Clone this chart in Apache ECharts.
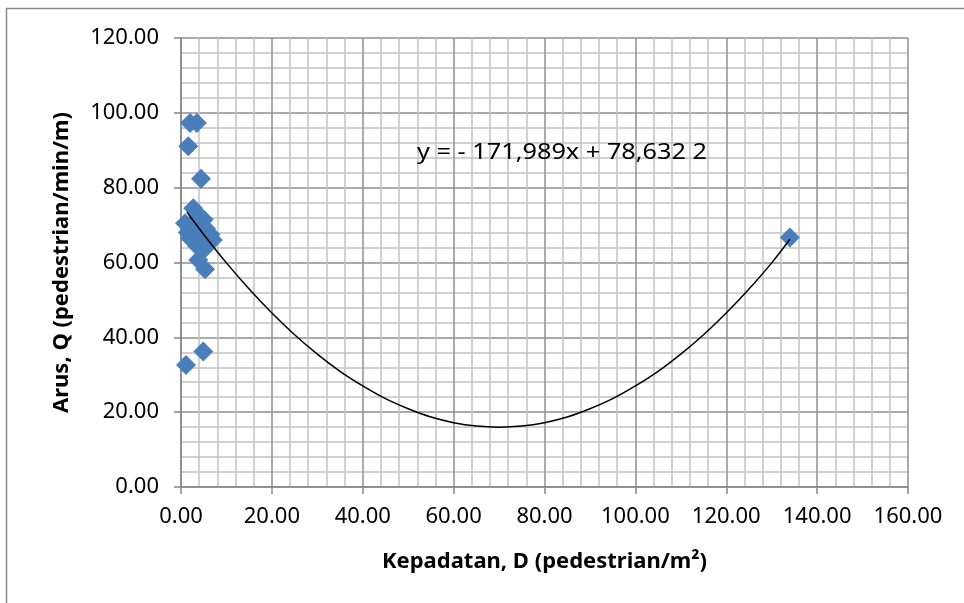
<!DOCTYPE html>
<html>
<head>
<meta charset="utf-8">
<script src="https://cdn.jsdelivr.net/npm/echarts@6/dist/echarts.min.js"></script>
<style>html,body{margin:0;padding:0;background:#fff;}#c{width:964px;height:603px;}</style>
</head>
<body>
<div id="c"></div>
<script>
// Observed data: density D (pedestrian/m2) vs flow Q (pedestrian/min/m)
const densityD = [2.0, 3.5, 1.6, 4.4, 2.7, 0.9, 1.5, 2.0, 3.0, 4.0, 5.0, 5.5, 6.5, 7.0, 4.5, 3.5, 5.0, 2.5, 3.8, 5.3, 4.9, 1.1, 134.0];
const flowQ    = [97.3, 97.3, 91.1, 82.4, 74.5, 70.5, 68.0, 66.5, 71.0, 72.5, 71.5, 69.0, 67.5, 66.0, 67.0, 64.5, 63.5, 68.5, 60.7, 58.2, 36.2, 32.6, 66.7];

// Polynomial trendline, points
const trendX = [1.3, 5, 10, 15, 20, 25, 30, 35, 40, 45, 50, 55, 60, 65, 70, 75, 80, 85, 90, 95, 100, 105, 110, 115, 120, 125, 130, 134];
const trendY = [73.5, 67.5, 59.9, 52.9, 46.5, 40.7, 35.5, 30.9, 27.0, 23.6, 20.9, 18.7, 17.2, 16.3, 16.0, 16.3, 17.2, 18.7, 20.9, 23.6, 27.0, 30.9, 35.5, 40.7, 46.5, 52.9, 59.9, 66.2];

const xTicks = [0, 20, 40, 60, 80, 100, 120, 140, 160];
const yTicks = [0, 20, 40, 60, 80, 100, 120];

const equationText = 'y = - 171,989x + 78,632 2';
const xTitle = 'Kepadatan, D (pedestrian/m²)';
const yTitle = 'Arus, Q (pedestrian/min/m)';

const scatterData = densityD.map((d, i) => [d, flowQ[i]]);
const trendData = trendX.map((x, i) => [x, trendY[i]]);

const font = '"Noto Sans", "Open Sans", sans-serif';
const chart = echarts.init(document.getElementById('c'), null, {renderer: 'canvas'});
const axisCommon = {
  type: 'value', interval: 20,
  axisLine: {show: true, onZero: false, lineStyle: {color: '#868686', width: 1.5}},
  axisTick: {show: true, inside: false, length: 7, lineStyle: {color: '#868686', width: 1.5}},
  splitLine: {show: true, lineStyle: {color: '#8f8f8f', width: 1.5}},
  minorTick: {show: false, splitNumber: 5},
  minorSplitLine: {show: true, lineStyle: {color: '#c2c2c2', width: 1.5}}
};
chart.setOption({
  animation: false,
  backgroundColor: '#fff',
  grid: {left: 181, right: 56, top: 38, bottom: 116},
  xAxis: Object.assign({}, axisCommon, {
    min: xTicks[0], max: xTicks[xTicks.length - 1],
    axisLabel: {formatter: v => v.toFixed(2), fontFamily: font, fontSize: 22, color: '#000', margin: 19},
    name: xTitle, nameLocation: 'middle', nameGap: 64,
    nameTextStyle: {fontFamily: font, fontSize: 22, fontWeight: 'bold', color: '#000'}
  }),
  yAxis: Object.assign({}, axisCommon, {
    min: yTicks[0], max: yTicks[yTicks.length - 1],
    axisLabel: {formatter: v => v.toFixed(2), fontFamily: font, fontSize: 22, color: '#000', margin: 22},
    name: yTitle, nameLocation: 'middle', nameGap: 108, nameRotate: 90,
    nameTextStyle: {fontFamily: font, fontSize: 22, fontWeight: 'bold', color: '#000'}
  }),
  graphic: [
    {type: 'rect', silent: true, z: -10, shape: {x: 6.5, y: 8.5, width: 1000, height: 700},
     style: {fill: 'none', stroke: '#8a8a8a', lineWidth: 1.5}},
    {type: 'text', x: 417, y: 142, scaleX: 1.15, z: 100,
     style: {text: equationText, font: '22px ' + font, fill: '#000'}}
  ],
  series: [
    {type: 'scatter', data: scatterData, symbol: 'diamond', symbolSize: 20,
     itemStyle: {color: '#4A7EBB', opacity: 1}, z: 3},
    {type: 'line', data: trendData, smooth: 0.4, showSymbol: false, symbol: 'none',
     lineStyle: {color: '#000', width: 1.5}, z: 4}
  ]
});
</script>
</body>
</html>
